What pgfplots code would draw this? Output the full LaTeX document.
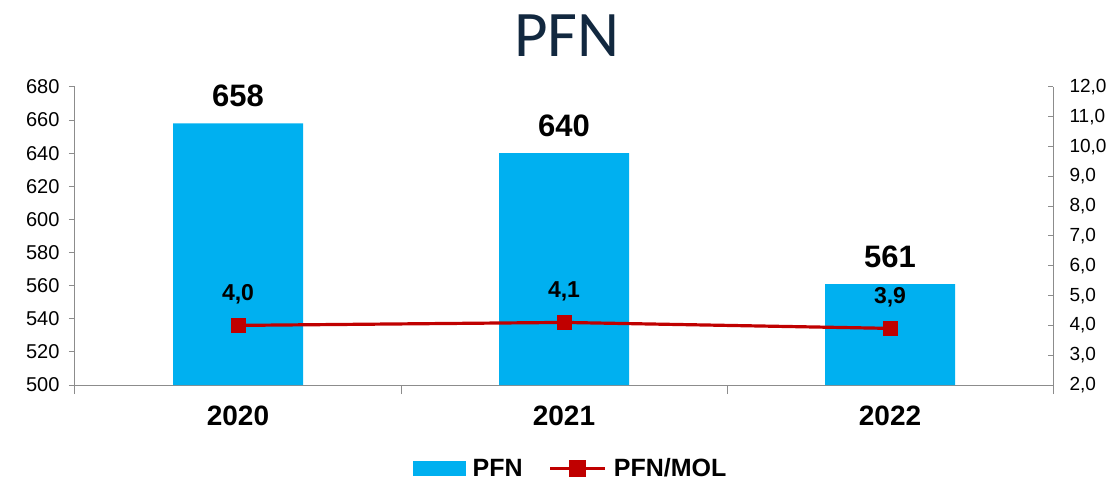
\documentclass[border=0pt]{standalone}
\usepackage{fontspec}
\setmainfont{Liberation Sans}
\newfontfamily\titlefont{Carlito}
\usepackage{pgfplots}
\usepackage{pgfplotstable}
\pgfplotsset{compat=1.18}
\pgfkeys{/pgf/number format/assume math mode=true}
\definecolor{barblue}{HTML}{00B0F0}
\definecolor{linered}{HTML}{C00000}
\definecolor{axisgray}{HTML}{8C8C8C}
\definecolor{titlenavy}{HTML}{12283F}

\pgfplotstableread{
x year pfn mol
0 2020 658 4.0
1 2021 640 4.1
2 2022 561 3.9
}\datatable

\begin{document}
\begin{tikzpicture}
% bars, left axis
\begin{axis}[
  name=ax1,
  scale only axis, width=978pt, height=298pt,
  xmin=-0.5, xmax=2.5, ymin=500, ymax=680,
  ytick={500,520,...,680},
  xtick={0,1,2}, xticklabels={2020,2021,2022},
  minor xtick={-0.5,0.5,1.5,2.5},
  axis x line*=bottom, axis y line*=left,
  axis line style={axisgray, line width=1pt},
  tick align=outside,
  major x tick style={draw=none},
  major tick length=6pt, minor tick length=9pt,
  tick style={axisgray, line width=1pt},
  yticklabel style={font=\fontsize{20}{20}\selectfont, xshift=-6pt},
  xticklabel style={font=\bfseries\fontsize{28}{28}\selectfont, yshift=-11pt},
]
\addplot[ybar, bar width=130pt, fill=barblue, draw=none,
  nodes near coords,
  nodes near coords style={font=\bfseries\fontsize{31}{31}\selectfont, text=black, yshift=13pt}]
  table[x=x, y=pfn]{\datatable};
\end{axis}
% line, right axis
\begin{axis}[
  scale only axis, width=978pt, height=298pt,
  xmin=-0.5, xmax=2.5, ymin=2, ymax=12,
  axis y line*=right, axis x line=none,
  ytick={2,3,...,12},
  yticklabel={\pgfmathprintnumber[fixed,fixed zerofill,precision=1,use comma]{\tick}},
  axis line style={axisgray, line width=1pt},
  tick align=inside, major tick length=5pt,
  tick style={axisgray, line width=1pt},
  yticklabel style={font=\fontsize{19}{19}\selectfont, xshift=13pt},
  legend columns=2,
  legend style={draw=none, fill=none, at={(0.507,-0.28)}, anchor=center,
    font=\bfseries\fontsize{25}{25}\selectfont,
    /tikz/every even column/.append style={column sep=24pt},
    /tikz/every odd column/.append style={column sep=5pt}},
]
\addlegendimage{legend image code/.code={\fill[barblue] (0pt,-7pt) rectangle (52pt,7pt);}}
\addlegendentry{PFN}
\addplot[linered, line width=3.2pt, mark=square*, mark size=7pt,
  mark options={line width=0.5pt},
  legend image code/.code={\draw[linered, line width=3.2pt] (0pt,0pt) -- (55pt,0pt);
    \fill[linered] (20.5pt,-7pt) rectangle (34.5pt,7pt);},
  point meta=y,
  nodes near coords={\pgfmathprintnumber[fixed,fixed zerofill,precision=1,use comma]{\pgfplotspointmeta}},
  nodes near coords style={font=\bfseries\fontsize{23}{23}\selectfont, text=black, yshift=18pt}]
  table[x=x, y=mol]{\datatable};
\addlegendentry{PFN/MOL}
\end{axis}
\node[font=\titlefont\fontsize{65}{65}\selectfont, text=titlenavy]
  at ([yshift=51pt, xshift=3pt]ax1.north) {PFN};
\pgfresetboundingbox
\path[use as bounding box] (-75pt,-99pt) rectangle (1040pt,385pt);
\end{tikzpicture}
\end{document}
